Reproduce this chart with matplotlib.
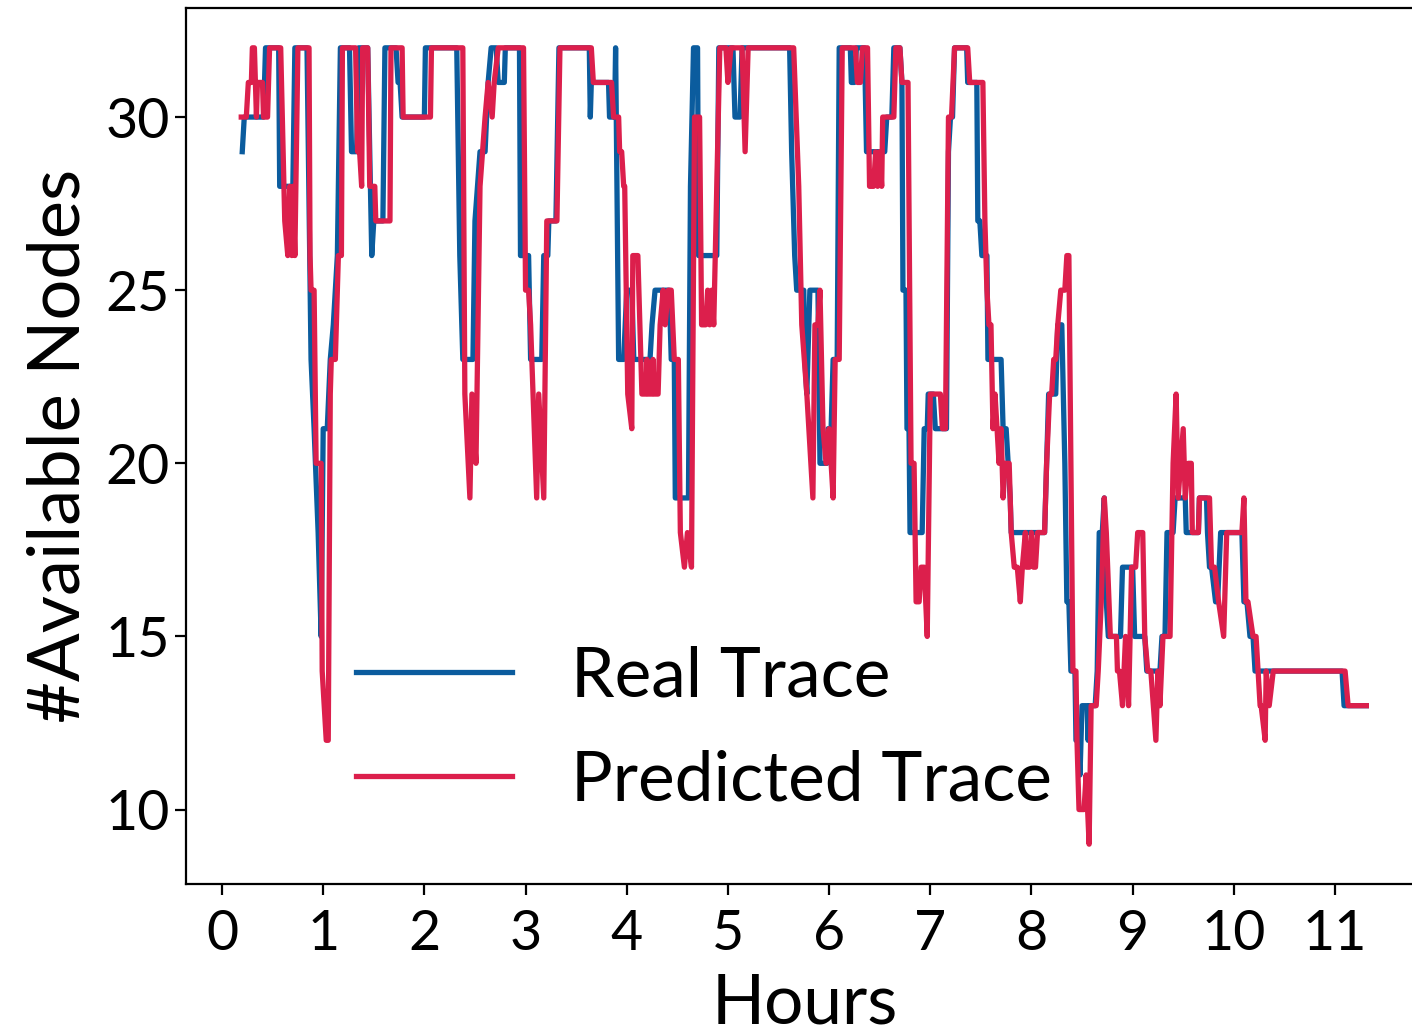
import matplotlib
matplotlib.use("Agg")
import matplotlib.pyplot as plt

plt.rcParams['font.family'] = ['Lato', 'DejaVu Sans']

# Real trace: (hour, available nodes) vertices
real_hours = [0.20, 0.22, 0.41, 0.43, 0.56, 0.57, 0.70, 0.72, 0.84, 0.88, 0.91, 0.95, 0.98, 1.00, 1.04, 1.07, 1.10, 1.14, 1.17,
              1.26, 1.28, 1.33, 1.35, 1.44, 1.48, 1.50, 1.59, 1.61, 1.72, 1.74, 1.76, 1.78, 2.00, 2.01, 2.32, 2.35, 2.38,
              2.48, 2.50, 2.55, 2.60, 2.63, 2.66, 2.71, 2.73, 2.79, 2.80, 2.94, 2.95, 3.03, 3.05, 3.16, 3.18, 3.22, 3.23,
              3.30, 3.33, 3.63, 3.64, 3.65, 3.82, 3.83, 3.88, 3.89, 3.92, 3.97, 4.00, 4.05, 4.07, 4.23, 4.25, 4.28, 4.42,
              4.44, 4.47, 4.48, 4.61, 4.63, 4.66, 4.70, 4.71, 4.89, 4.91, 5.05, 5.07, 5.12, 5.14, 5.61, 5.63, 5.66, 5.68,
              5.75, 5.76, 5.78, 5.81, 5.89, 5.91, 5.98, 5.99, 6.02, 6.04, 6.08, 6.10, 6.21, 6.22, 6.25, 6.27, 6.35, 6.37,
              6.55, 6.57, 6.62, 6.64, 6.70, 6.72, 6.73, 6.76, 6.77, 6.79, 6.80, 6.92, 6.94, 6.97, 6.98, 7.03, 7.05, 7.16,
              7.18, 7.20, 7.22, 7.24, 7.36, 7.37, 7.46, 7.47, 7.49, 7.51, 7.56, 7.57, 7.70, 7.72, 7.75, 7.77, 7.79, 7.80,
              8.13, 8.15, 8.17, 8.24, 8.26, 8.30, 8.33, 8.35, 8.37, 8.39, 8.43, 8.44, 8.46, 8.48, 8.50, 8.55, 8.56, 8.57,
              8.63, 8.65, 8.67, 8.70, 8.72, 8.74, 8.76, 8.88, 8.90, 9.00, 9.02, 9.12, 9.14, 9.27, 9.29, 9.32, 9.34, 9.40,
              9.42, 9.52, 9.53, 9.65, 9.66, 9.73, 9.74, 9.76, 9.78, 9.82, 9.84, 9.87, 10.08, 10.10, 10.13, 10.16, 10.19,
              10.21, 11.07, 11.09, 11.31]
real_nodes = [29, 30, 30, 32, 32, 28, 28, 32, 32, 23, 21, 18, 15, 21, 21, 23, 24, 26, 32,
              32, 29, 29, 32, 32, 26, 27, 27, 32, 32, 31, 31, 30, 30, 32, 32, 26, 23,
              23, 27, 29, 29, 31, 32, 32, 31, 31, 32, 32, 26, 26, 23, 23, 26, 26, 27,
              27, 32, 32, 30, 31, 31, 30, 30, 32, 23, 23, 25, 25, 23, 23, 24, 25, 25,
              23, 23, 19, 19, 28, 32, 32, 26, 26, 32, 32, 30, 30, 32, 32, 29, 26, 25,
              25, 23, 22, 25, 25, 20, 20, 21, 21, 23, 23, 32, 32, 31, 31, 32, 32, 29,
              29, 30, 30, 32, 32, 31, 25, 25, 21, 21, 18, 18, 21, 21, 22, 22, 21, 21,
              29, 30, 30, 32, 32, 31, 31, 27, 27, 26, 26, 23, 23, 21, 21, 20, 19, 18,
              18, 20, 22, 22, 24, 24, 20, 16, 16, 14, 14, 12, 12, 11, 13, 13, 12, 13,
              13, 14, 18, 18, 19, 16, 15, 15, 17, 17, 15, 15, 14, 14, 15, 15, 18, 18,
              19, 19, 18, 18, 19, 19, 18, 17, 17, 16, 16, 18, 18, 16, 16, 15, 15,
              14, 14, 13, 13]

# Predicted trace: (hour, available nodes) vertices
pred_hours = [0.19, 0.24, 0.26, 0.29, 0.30, 0.32, 0.34, 0.35, 0.40, 0.41, 0.45, 0.47, 0.58, 0.62, 0.65, 0.67, 0.69, 0.70,
              0.72, 0.75, 0.86, 0.87, 0.88, 0.91, 0.93, 0.98, 0.99, 1.03, 1.05, 1.07, 1.08, 1.12, 1.13, 1.15, 1.18, 1.19,
              1.32, 1.34, 1.36, 1.38, 1.39, 1.44, 1.46, 1.51, 1.52, 1.66, 1.67, 1.78, 1.79, 2.06, 2.07, 2.38, 2.40, 2.45,
              2.47, 2.51, 2.55, 2.60, 2.63, 2.67, 2.69, 2.73, 2.98, 3.00, 3.03, 3.05, 3.11, 3.13, 3.18, 3.21, 3.31, 3.34,
              3.65, 3.67, 3.85, 3.87, 3.92, 3.93, 3.95, 3.97, 3.98, 4.01, 4.05, 4.06, 4.11, 4.15, 4.19, 4.20, 4.21, 4.25,
              4.26, 4.27, 4.31, 4.33, 4.36, 4.38, 4.41, 4.44, 4.47, 4.51, 4.53, 4.57, 4.60, 4.64, 4.67, 4.72, 4.74, 4.78,
              4.80, 4.82, 4.84, 4.86, 4.92, 4.98, 5.00, 5.03, 5.14, 5.17, 5.20, 5.65, 5.70, 5.73, 5.78, 5.84, 5.86, 5.89,
              5.91, 5.94, 5.97, 6.00, 6.04, 6.06, 6.10, 6.13, 6.26, 6.28, 6.31, 6.33, 6.38, 6.40, 6.44, 6.46, 6.48, 6.50,
              6.52, 6.53, 6.64, 6.66, 6.70, 6.72, 6.78, 6.81, 6.84, 6.86, 6.89, 6.91, 6.94, 6.97, 7.00, 7.10, 7.12, 7.15,
              7.18, 7.21, 7.24, 7.37, 7.39, 7.52, 7.54, 7.56, 7.58, 7.60, 7.62, 7.64, 7.66, 7.68, 7.70, 7.72, 7.74, 7.78,
              7.80, 7.83, 7.86, 7.89, 7.91, 7.94, 7.95, 7.98, 8.00, 8.02, 8.04, 8.06, 8.13, 8.15, 8.18, 8.20, 8.22, 8.24,
              8.26, 8.29, 8.33, 8.35, 8.37, 8.41, 8.44, 8.45, 8.47, 8.52, 8.54, 8.57, 8.59, 8.64, 8.66, 8.69, 8.72, 8.74,
              8.78, 8.84, 8.85, 8.87, 8.90, 8.93, 8.96, 8.99, 9.03, 9.05, 9.10, 9.12, 9.15, 9.18, 9.23, 9.25, 9.27, 9.30,
              9.37, 9.40, 9.43, 9.45, 9.50, 9.52, 9.55, 9.58, 9.59, 9.65, 9.66, 9.76, 9.78, 9.81, 9.85, 9.90, 9.93, 10.08,
              10.10, 10.12, 10.14, 10.19, 10.22, 10.24, 10.26, 10.27, 10.31, 10.32, 10.35, 10.39, 11.10, 11.13, 11.31]
pred_nodes = [30, 30, 31, 31, 32, 32, 30, 31, 31, 30, 30, 32, 32, 27, 26, 28, 26, 28,
              26, 32, 32, 26, 25, 25, 20, 20, 14, 12, 12, 22, 23, 23, 24, 26, 26, 32,
              32, 29, 29, 28, 32, 32, 28, 28, 27, 27, 32, 32, 30, 30, 32, 32, 22, 19,
              22, 20, 28, 30, 31, 30, 31, 32, 32, 25, 25, 24, 19, 22, 19, 27, 27, 32,
              32, 31, 31, 30, 30, 29, 29, 28, 28, 22, 21, 26, 26, 22, 22, 23, 22, 22,
              23, 22, 22, 24, 25, 24, 25, 25, 23, 23, 18, 17, 18, 17, 30, 30, 24, 24,
              25, 24, 25, 24, 32, 32, 31, 32, 32, 29, 32, 32, 28, 24, 22, 19, 24, 24,
              25, 21, 20, 21, 19, 23, 23, 32, 32, 31, 31, 32, 32, 28, 28, 29, 28, 29,
              28, 30, 30, 32, 32, 31, 31, 20, 20, 16, 16, 17, 17, 15, 22, 22, 21, 21,
              30, 30, 32, 32, 31, 31, 27, 25, 24, 24, 21, 22, 21, 20, 21, 19, 20, 20,
              18, 17, 17, 16, 17, 18, 17, 17, 18, 17, 17, 18, 18, 20, 22, 22, 23, 23,
              24, 25, 25, 26, 26, 14, 14, 12, 10, 10, 11, 9, 13, 13, 14, 16, 19, 18,
              15, 15, 14, 14, 13, 15, 13, 17, 17, 18, 18, 15, 14, 14, 12, 14, 13, 15,
              15, 20, 22, 19, 21, 19, 20, 20, 18, 18, 19, 19, 17, 17, 16, 15, 18, 18,
              19, 16, 16, 15, 15, 14, 13, 13, 12, 14, 13, 14, 14, 13, 13]

x_ticks = list(range(0, 12))
y_ticks = [10, 15, 20, 25, 30]


def main():
  fig = plt.figure(figsize=(14.12, 10.33), dpi=100)
  ax = fig.add_axes([186 / 1412, 1 - 884 / 1033, (1423 - 186) / 1412, (884 - 8) / 1033])

  ax.plot(real_hours, real_nodes, color="#0b5c9e", linewidth=3.8, label="Real Trace")
  ax.plot(pred_hours, pred_nodes, color="#dc1f4c", linewidth=3.8, label="Predicted Trace")

  ax.set_xlim(-0.356, 11.87)
  ax.set_ylim(7.85, 33.15)
  ax.set_xticks(x_ticks)
  ax.set_yticks(y_ticks)
  ax.tick_params(labelsize=40, length=8, width=1.6)
  ax.tick_params(axis="x", pad=10)
  for s in ax.spines.values():
    s.set_linewidth(1.6)

  ax.set_xlabel("Hours", fontsize=50, labelpad=9)
  ax.set_ylabel("#Available Nodes", fontsize=52, labelpad=10)

  ax.legend(loc="lower left", bbox_to_anchor=(0.087, 0.01), frameon=False, fontsize=50,
            handlelength=2.25, handletextpad=0.85, labelspacing=0.6)

  fig.savefig("out.png", dpi=100)


if __name__ == '__main__':
  main()
